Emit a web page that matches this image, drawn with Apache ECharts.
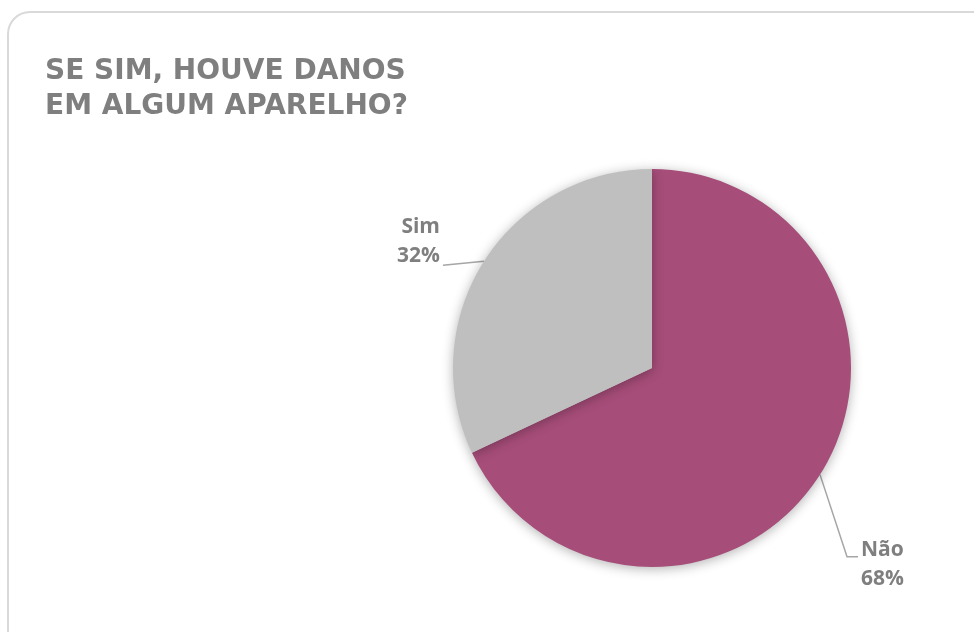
<!DOCTYPE html>
<html>
<head>
<meta charset="utf-8">
<script src="https://cdn.jsdelivr.net/npm/echarts@6/dist/echarts.min.js"></script>
<style>
html,body{margin:0;padding:0;background:#fff;}
#chart{width:974px;height:632px;}
</style>
</head>
<body>
<div id="chart"></div>
<script>
const titleText = 'SE SIM, HOUVE DANOS\nEM ALGUM APARELHO?';
const categories = ['Não', 'Sim'];
const values = [68, 32];
const colors = ['#A64D79', '#BFBFBF'];

const chart = echarts.init(document.getElementById('chart'), null, {renderer: 'canvas'});

const data = categories.map((c, i) => ({name: c, value: values[i], itemStyle: {color: colors[i]}}));

chart.setOption({
  animation: false,
  graphic: [{
    type: 'rect',
    shape: {x: 8, y: 12, width: 1000, height: 660, r: 22},
    style: {fill: '#fff', stroke: '#d9d9d9', lineWidth: 2},
    z: -10
  }],
  title: {
    text: titleText,
    left: 40,
    top: 49,
    textStyle: {
      fontFamily: 'DejaVu Sans',
      fontWeight: 'bold',
      fontSize: 28,
      lineHeight: 35,
      color: '#7F7F7F'
    }
  },
  series: [{
    type: 'pie',
    center: [652, 368],
    radius: ['0%', 199],
    startAngle: 90,
    clockwise: true,
    data: data,
    itemStyle: {
      shadowBlur: 12,
      shadowColor: 'rgba(0,0,0,0.3)',
      shadowOffsetX: 0,
      shadowOffsetY: 2
    },
    label: {
      show: true,
      position: 'outside',
      formatter: '{b}\n{d}%',
      fontFamily: 'Open Sans',
      fontWeight: 'bold',
      fontSize: 21,
      lineHeight: 29,
      color: '#7F7F7F'
    },
    labelLine: {
      show: true,
      length: 10,
      length2: 10,
      lineStyle: {color: '#A6A6A6', width: 1.5}
    },
    labelLayout: function (params) {
      const p0 = params.labelLinePoints[0];
      if (params.dataIndex === 1) {
        const end = [p0[0] - 41, p0[1] + 4];
        return {
          x: end[0] - 3, y: end[1] - 24,
          align: 'right', verticalAlign: 'middle',
          labelLinePoints: [p0, end, end]
        };
      } else {
        const mid = [p0[0] + 27, p0[1] + 82];
        const end = [mid[0] + 11, mid[1]];
        return {
          x: end[0] + 3, y: end[1] + 8,
          align: 'left', verticalAlign: 'middle',
          labelLinePoints: [p0, mid, end]
        };
      }
    }
  }]
});
</script>
</body>
</html>
